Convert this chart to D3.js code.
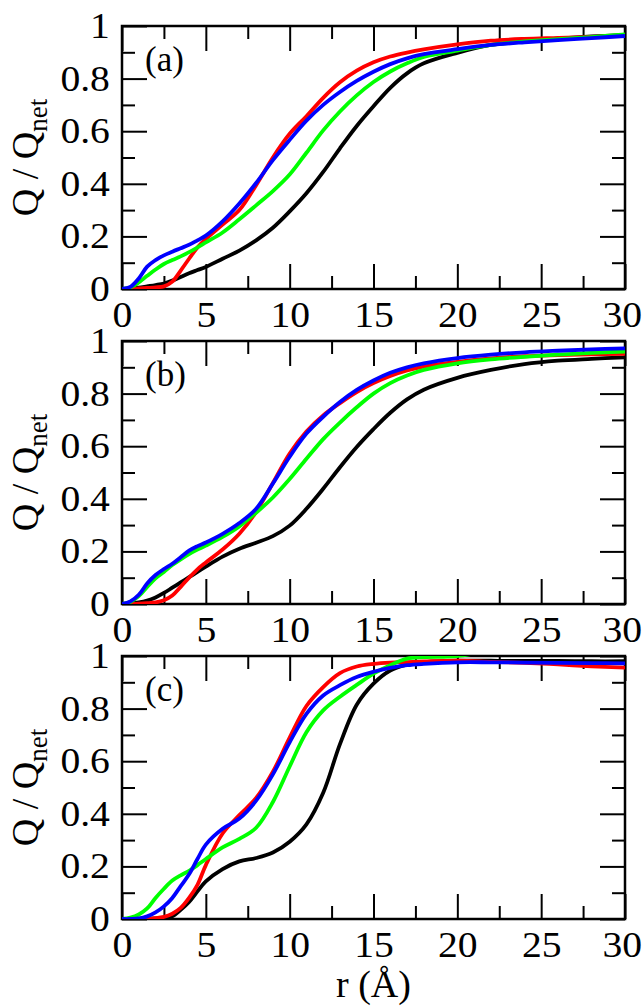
<!DOCTYPE html>
<html>
<head>
<meta charset="utf-8">
<script src="https://cdn.jsdelivr.net/npm/d3@7"></script>
<style>
  body { margin: 0; background: #fff; }
  text { font-family: "Liberation Serif", "Times New Roman", serif; fill: #000; }
</style>
</head>
<body>
<div id="chart"></div>
<script>
// Data
const rValues = [0, 0.5, 1, 1.5, 2, 2.5, 3, 3.5, 4, 4.5, 5, 6, 7, 8, 9, 10, 11, 12, 13, 14, 15, 16, 17, 18, 20, 22, 24, 26, 28, 30];

const aBlack = [0, 0.002, 0.005, 0.01, 0.015, 0.021, 0.032, 0.046, 0.06, 0.072, 0.084, 0.115, 0.146, 0.185, 0.233, 0.295, 0.364, 0.445, 0.535, 0.62, 0.695, 0.765, 0.82, 0.858, 0.898, 0.928, 0.942, 0.952, 0.96, 0.966];
const aRed   = [0, 0, 0.002, 0.004, 0.006, 0.01, 0.028, 0.07, 0.115, 0.158, 0.19, 0.245, 0.3, 0.395, 0.5, 0.59, 0.657, 0.727, 0.786, 0.83, 0.862, 0.884, 0.899, 0.911, 0.93, 0.944, 0.951, 0.955, 0.959, 0.963];
const aGreen = [0, 0.006, 0.025, 0.05, 0.074, 0.095, 0.11, 0.124, 0.14, 0.158, 0.177, 0.215, 0.265, 0.318, 0.372, 0.435, 0.518, 0.603, 0.675, 0.736, 0.787, 0.827, 0.858, 0.882, 0.906, 0.928, 0.941, 0.95, 0.958, 0.968];
const aBlue  = [0, 0.008, 0.04, 0.085, 0.11, 0.128, 0.142, 0.155, 0.168, 0.185, 0.203, 0.257, 0.325, 0.403, 0.49, 0.567, 0.64, 0.7, 0.749, 0.791, 0.826, 0.855, 0.877, 0.893, 0.912, 0.928, 0.938, 0.946, 0.954, 0.962];

const bBlack = [0, 0.002, 0.006, 0.013, 0.025, 0.042, 0.062, 0.082, 0.102, 0.122, 0.142, 0.18, 0.21, 0.233, 0.258, 0.298, 0.362, 0.438, 0.52, 0.597, 0.665, 0.727, 0.778, 0.815, 0.86, 0.89, 0.912, 0.925, 0.932, 0.938];
const bRed   = [0, 0, 0.001, 0.003, 0.006, 0.014, 0.032, 0.065, 0.1, 0.132, 0.158, 0.207, 0.267, 0.35, 0.46, 0.572, 0.656, 0.717, 0.764, 0.806, 0.84, 0.867, 0.888, 0.903, 0.921, 0.934, 0.942, 0.946, 0.949, 0.951];
const bGreen = [0, 0.008, 0.03, 0.065, 0.098, 0.122, 0.148, 0.17, 0.19, 0.207, 0.222, 0.255, 0.295, 0.347, 0.405, 0.475, 0.552, 0.627, 0.69, 0.748, 0.8, 0.84, 0.869, 0.89, 0.915, 0.93, 0.94, 0.948, 0.955, 0.96];
const bBlue  = [0, 0.01, 0.035, 0.078, 0.11, 0.133, 0.153, 0.178, 0.203, 0.22, 0.234, 0.267, 0.308, 0.362, 0.458, 0.56, 0.648, 0.712, 0.768, 0.814, 0.85, 0.879, 0.9, 0.915, 0.935, 0.948, 0.957, 0.963, 0.968, 0.972];

const cBlack = [0, 0, 0, 0.001, 0.002, 0.004, 0.01, 0.035, 0.065, 0.105, 0.143, 0.19, 0.219, 0.232, 0.253, 0.294, 0.36, 0.48, 0.665, 0.815, 0.895, 0.945, 0.967, 0.976, 0.982, 0.982, 0.981, 0.981, 0.98, 0.98];
const cRed   = [0, 0, 0, 0.001, 0.003, 0.008, 0.02, 0.042, 0.08, 0.13, 0.205, 0.325, 0.395, 0.46, 0.56, 0.69, 0.81, 0.882, 0.935, 0.96, 0.97, 0.975, 0.977, 0.979, 0.982, 0.978, 0.974, 0.968, 0.961, 0.956];
const cGreen = [0, 0.005, 0.017, 0.04, 0.08, 0.115, 0.146, 0.166, 0.183, 0.205, 0.228, 0.272, 0.305, 0.347, 0.445, 0.58, 0.71, 0.793, 0.845, 0.89, 0.933, 0.965, 0.99, 0.996, 1.0, 1.02, 1.03, 1.035, 1.04, 1.04];
const cBlue  = [0, 0, 0.002, 0.01, 0.025, 0.048, 0.08, 0.125, 0.17, 0.228, 0.283, 0.343, 0.382, 0.45, 0.55, 0.672, 0.78, 0.85, 0.889, 0.92, 0.94, 0.955, 0.965, 0.97, 0.976, 0.976, 0.975, 0.974, 0.973, 0.972];

const panelSeries = [
  [aBlack, aRed, aGreen, aBlue],
  [bBlack, bRed, bGreen, bBlue],
  [cBlack, cRed, cGreen, cBlue]
];
const seriesColors = ['#000000', '#ff0000', '#00ff00', '#0000ff'];
const panelLabels = ['(a)', '(b)', '(c)'];

const xTicks = [0, 5, 10, 15, 20, 25, 30];
const xMinor = [2.5, 7.5, 12.5, 17.5, 22.5, 27.5];
const yTicks = [0, 0.2, 0.4, 0.6, 0.8, 1];
const yMinor = [0.1, 0.3, 0.5, 0.7, 0.9];

// Dimensions
const margin = { left: 122, top: 26 };
const width = 503;
const height = 263;
const step = 315;

// Scales
const x = d3.scaleLinear().domain([0, 30]).range([0, width]);
const y = d3.scaleLinear().domain([0, 1]).range([height, 0]);

// SVG
const svg = d3.select('#chart')
  .append('svg')
  .attr('width', 644)
  .attr('height', 1006);

const line = d3.line()
  .x(d => x(d[0]))
  .y(d => y(d[1]))
  .curve(d3.curveCatmullRom.alpha(0.5));

function styleAxis(g, showLabels) {
  g.attr('font-family', null).attr('font-size', null);
  g.select('.domain').remove();
  g.selectAll('.tick line').attr('stroke', '#000').attr('stroke-width', 2);
  g.selectAll('.tick text')
    .style('font-size', '36px')
    .attr('transform', 'scale(1.1,1)');
  if (!showLabels) g.selectAll('.tick text').remove();
}

panelSeries.forEach((series, i) => {
  const top = margin.top + i * step;
  const g = svg.append('g')
    .attr('transform', `translate(${margin.left},${top})`);

  g.append('clipPath')
    .attr('id', `clip${i}`)
    .append('rect')
    .attr('width', width)
    .attr('height', height);

  // Frame
  g.append('rect')
    .attr('width', width)
    .attr('height', height)
    .attr('fill', 'none')
    .attr('stroke', '#000')
    .attr('stroke-width', 2.5);

  // Axes (ticks inward on all four sides)
  g.append('g')
    .attr('transform', `translate(0,${height})`)
    .call(d3.axisBottom(x).tickValues(xTicks).tickSizeInner(-25).tickSizeOuter(0).tickPadding(12).tickFormat(d3.format('d')))
    .call(a => styleAxis(a, true))
    .call(a => a.selectAll('.tick text').filter(d => d === 30).attr('x', -3));
  g.append('g')
    .attr('transform', `translate(0,${height})`)
    .call(d3.axisBottom(x).tickValues(xMinor).tickSizeInner(-13).tickSizeOuter(0))
    .call(a => styleAxis(a, false));
  g.append('g')
    .call(d3.axisTop(x).tickValues(xTicks).tickSizeInner(-25).tickSizeOuter(0))
    .call(a => styleAxis(a, false));
  g.append('g')
    .call(d3.axisTop(x).tickValues(xMinor).tickSizeInner(-13).tickSizeOuter(0))
    .call(a => styleAxis(a, false));

  g.append('g')
    .call(d3.axisLeft(y).tickValues(yTicks).tickSizeInner(-25).tickSizeOuter(0).tickPadding(11).tickFormat(d => String(d)))
    .call(a => styleAxis(a, true));
  g.append('g')
    .call(d3.axisLeft(y).tickValues(yMinor).tickSizeInner(-13).tickSizeOuter(0))
    .call(a => styleAxis(a, false));
  g.append('g')
    .attr('transform', `translate(${width},0)`)
    .call(d3.axisRight(y).tickValues(yTicks).tickSizeInner(-25).tickSizeOuter(0))
    .call(a => styleAxis(a, false));
  g.append('g')
    .attr('transform', `translate(${width},0)`)
    .call(d3.axisRight(y).tickValues(yMinor).tickSizeInner(-13).tickSizeOuter(0))
    .call(a => styleAxis(a, false));

  // Curves
  g.append('g')
    .attr('clip-path', `url(#clip${i})`)
    .selectAll('path')
    .data(series)
    .enter()
    .append('path')
    .attr('d', vals => line(rValues.map((r, k) => [r, vals[k]])))
    .attr('fill', 'none')
    .attr('stroke', (d, k) => seriesColors[k])
    .attr('stroke-width', 3.8)
    .attr('stroke-linejoin', 'round');

  // Labels
  g.append('text')
    .attr('x', 23)
    .attr('y', 45)
    .style('font-size', '35px')
    .text(panelLabels[i]);

  const yl = svg.append('text')
    .attr('transform', `translate(38,${top + height / 2}) rotate(-90)`)
    .attr('text-anchor', 'middle')
    .style('font-size', '38px');
  yl.append('tspan').text('Q / Q');
  yl.append('tspan').attr('dy', 9).style('font-size', '27px').text('net');
});

svg.append('text')
  .attr('x', margin.left + width / 2)
  .attr('y', 997)
  .attr('text-anchor', 'middle')
  .style('font-size', '38px')
  .text('r (Å)');
</script>
</body>
</html>
